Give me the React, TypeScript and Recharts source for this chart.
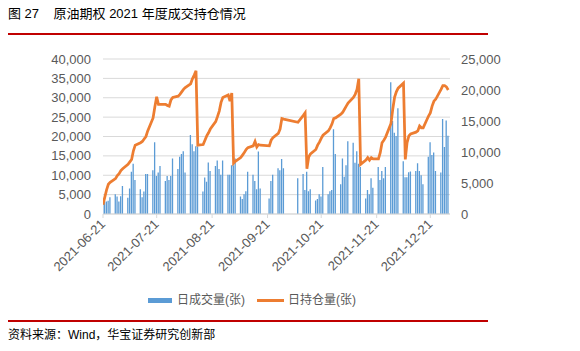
import { ComposedChart, Bar, Line, XAxis, YAxis, CartesianGrid } from 'recharts';

const tradeDates = [
  '2021-06-21', '2021-06-22', '2021-06-23', '2021-06-24', '2021-06-25',
  '2021-06-28', '2021-06-29', '2021-06-30', '2021-07-01', '2021-07-02',
  '2021-07-05', '2021-07-06', '2021-07-07', '2021-07-08', '2021-07-09',
  '2021-07-12', '2021-07-13', '2021-07-14', '2021-07-15', '2021-07-16',
  '2021-07-19', '2021-07-20', '2021-07-21', '2021-07-22', '2021-07-23',
  '2021-07-26', '2021-07-27', '2021-07-28', '2021-07-29', '2021-07-30',
  '2021-08-02', '2021-08-03', '2021-08-04', '2021-08-05', '2021-08-06',
  '2021-08-09', '2021-08-10', '2021-08-11', '2021-08-12', '2021-08-13',
  '2021-08-16', '2021-08-17', '2021-08-18', '2021-08-19', '2021-08-20',
  '2021-08-23', '2021-08-24', '2021-08-25', '2021-08-26', '2021-08-27',
  '2021-08-30', '2021-08-31', '2021-09-01', '2021-09-02', '2021-09-03',
  '2021-09-06', '2021-09-07', '2021-09-08', '2021-09-09', '2021-09-10',
  '2021-09-13', '2021-09-14', '2021-09-15', '2021-09-16', '2021-09-17',
  '2021-09-22', '2021-09-23', '2021-09-24',
  '2021-09-27', '2021-09-28', '2021-09-29', '2021-09-30',
  '2021-10-08',
  '2021-10-11', '2021-10-12', '2021-10-13', '2021-10-14', '2021-10-15',
  '2021-10-18', '2021-10-19', '2021-10-20', '2021-10-21', '2021-10-22',
  '2021-10-25', '2021-10-26', '2021-10-27', '2021-10-28', '2021-10-29',
  '2021-11-01', '2021-11-02', '2021-11-03', '2021-11-04', '2021-11-05',
  '2021-11-08', '2021-11-09', '2021-11-10', '2021-11-11', '2021-11-12',
  '2021-11-15', '2021-11-16', '2021-11-17', '2021-11-18', '2021-11-19',
  '2021-11-22', '2021-11-23', '2021-11-24', '2021-11-25', '2021-11-26',
  '2021-11-29', '2021-11-30', '2021-12-01', '2021-12-02', '2021-12-03',
  '2021-12-06', '2021-12-07', '2021-12-08', '2021-12-09', '2021-12-10',
  '2021-12-13', '2021-12-14', '2021-12-15', '2021-12-16', '2021-12-17',
  '2021-12-20', '2021-12-21', '2021-12-22', '2021-12-23', '2021-12-24',
  '2021-12-27', '2021-12-28', '2021-12-29', '2021-12-30', '2021-12-31',
];

// 日成交量(张)
const volume = [
  4200, 3200, 3200, 3400, 4300,
  5100, 4500, 3200, 4600, 7200,
  4200, 6600, 10900, 13000, 8800,
  6400, 4300, 5800, 10300, 10300,
  11300, 18500, 9800, 10700, 12400,
  8500, 9800, 8800, 9800, 14300,
  11600, 14800, 15500, 16200, 10700,
  20400, 18000, 16200, 17500, 17400,
  5800, 9400, 8300, 13300, 11100,
  12400, 13800, 11600, 10100, 13800,
  10100, 10100, 12600, 12600, 14300,
  4500, 3900, 5100, 5900, 10900,
  10100, 8500, 6400, 16100, 6600,
  4000, 8500, 10100,
  11800, 11300, 14200, 11800,
  9200,
  10300, 6200, 10900, 5900, 6400,
  3500, 3900, 5100, 4500, 12100,
  5100, 5900, 6200, 21900, 15500,
  7700, 14300, 9600, 12600, 18800,
  18400, 13200, 16200, 13000, 12100,
  4000, 6200, 5100, 9200, 6800,
  12100, 8800, 11100, 9200, 12100,
  34000, 24000, 21000, 20100, 27300,
  13600, 9500, 9500, 10800, 11000,
  11100, 13100, 11100, 10000, 7700,
  14800, 18500, 15200, 15900, 11100,
  10700, 24500, 17300, 24100, 20200,
];

// 日持仓量(张)
const openInterest = [
  1500, 2700, 3900, 4800, 5100,
  5700, 6200, 6500, 7000, 7300,
  8000, 8400, 8800, 10200, 11100,
  11500, 11700, 12100, 12500, 13400,
  15500, 17300, 18900, 17700, 17700,
  17700, 17500, 17400, 18400, 18800,
  19000, 19300, 19700, 20100, 20400,
  21000, 21800, 22400, 23100, 11100,
  11200, 11900, 12600, 13100, 13700,
  14900, 15700, 16600, 18000, 18800,
  19200, 18200, 19500, 8200, 8500,
  9100, 9500, 9900, 10400, 10700,
  11000, 11700, 10800, 11200, 11100,
  11000, 11900, 12300,
  13000, 13700, 15400, 15300,
  14800,
  15900, 16300, 7300, 9200, 9700,
  10400, 11100, 11600, 12200, 12700,
  13400, 13900, 14500, 15400, 15500,
  16100, 16400, 16900, 17400, 17900,
  18800, 19300, 20100, 21800, 8000,
  8700, 9100, 8700, 9100, 8900,
  8900, 9900, 11500, 11900, 12400,
  14600, 16900, 18800, 19700, 20300,
  21100, 8800, 11500, 12600, 12900,
  13200, 13400, 14200, 13900, 13900,
  15800, 16300, 17400, 18200, 18500,
  20100, 20700, 20700, 20500, 20000,
];

const tickDates = ['2021-06-21', '2021-07-21', '2021-08-21', '2021-09-21', '2021-10-21', '2021-11-21', '2021-12-21'];
const leftTicks = [0, 5000, 10000, 15000, 20000, 25000, 30000, 35000, 40000];
const rightTicks = [0, 5000, 10000, 15000, 20000, 25000];

const START = Date.parse(tradeDates[0]);
const dayOf = (s: string) => Math.round((Date.parse(s) - START) / 86400000);

const data = tradeDates.map((d, i) => ({
  day: dayOf(d),
  date: d,
  vol: volume[i],
  oi: openInterest[i],
}));

const tickDays = tickDates.map(dayOf);

const FONT = '"Liberation Sans", Arial, "Noto Sans CJK SC", sans-serif';
const fmt = (v: number) => v.toLocaleString('en-US');

const DateTick = ({ x, y, payload }: any) => {
  const label = tickDates[tickDays.indexOf(payload.value)] ?? '';
  return (
    <g transform={`translate(${x + 3},${y + 5})`}>
      <text textAnchor="end" transform="rotate(-45)" fontSize={13} fill="#595959" fontFamily={FONT}>
        {label}
      </text>
    </g>
  );
};

export default function App() {
  return (
    <div style={{ position: 'relative', width: 580, height: 351, margin: -8, background: '#fff', fontFamily: FONT, overflow: 'hidden' }}>
      <div style={{ position: 'absolute', left: 8, top: 5, fontSize: 13, lineHeight: '17px', color: '#000', whiteSpace: 'pre' }}>
        {'图 27    原油期权 2021 年度成交持仓情况'}
      </div>
      <div style={{ position: 'absolute', left: 8, top: 33, width: 480, height: 2, background: '#c00000' }} />

      <div style={{ position: 'absolute', left: 0, top: 40 }}>
        <ComposedChart width={580} height={250} data={data} margin={{ top: 19, right: 80, bottom: 16, left: 63 }}>
          <CartesianGrid vertical={false} stroke="#d9d9d9" yAxisId="left" />
          <XAxis
            dataKey="day"
            type="number"
            domain={[0, 194]}
            ticks={tickDays}
            interval={0}
            height={60}
            tick={<DateTick />}
            tickSize={4}
            tickMargin={2}
            stroke="#d9d9d9"
            allowDataOverflow
          />
          <YAxis
            yAxisId="left"
            orientation="left"
            domain={[0, 40000]}
            ticks={leftTicks}
            interval={0}
            width={40}
            axisLine={false}
            tickLine={false}
            tickMargin={6}
            tickFormatter={fmt}
            tick={{ fontSize: 13, fill: '#595959', fontFamily: FONT }}
          />
          <YAxis
            yAxisId="right"
            orientation="right"
            domain={[0, 25000]}
            ticks={rightTicks}
            interval={0}
            width={50}
            axisLine={false}
            tickLine={false}
            tickMargin={5}
            tickFormatter={fmt}
            tick={{ fontSize: 13, fill: '#595959', fontFamily: FONT, textAnchor: 'start' }}
          />
          <Bar yAxisId="left" dataKey="vol" name="日成交量(张)" fill="#5b9bd5" barSize={1.3} isAnimationActive={false} />
          <Line
            yAxisId="right"
            dataKey="oi"
            name="日持仓量(张)"
            type="linear"
            stroke="#ed7d31"
            strokeWidth={2.75}
            dot={false}
            activeDot={false}
            isAnimationActive={false}
          />
        </ComposedChart>
      </div>

      <div style={{ position: 'absolute', left: 148, top: 298, width: 24, height: 5, background: '#5b9bd5' }} />
      <div style={{ position: 'absolute', left: 177, top: 292, fontSize: 12, lineHeight: '16px', color: '#595959' }}>日成交量(张)</div>
      <div style={{ position: 'absolute', left: 257, top: 299, width: 27, height: 3, background: '#ed7d31' }} />
      <div style={{ position: 'absolute', left: 288, top: 292, fontSize: 12, lineHeight: '16px', color: '#595959' }}>日持仓量(张)</div>

      <div style={{ position: 'absolute', left: 8, top: 320, width: 480, height: 2, background: '#c00000' }} />
      <div style={{ position: 'absolute', left: 8, top: 327, fontSize: 12, lineHeight: '16px', color: '#000' }}>
        资料来源：Wind，华宝证券研究创新部
      </div>
      <div style={{ position: 'absolute', left: 488, top: 345, width: 11, height: 10, border: '1px solid #a6a6a6' }} />
    </div>
  );
}
